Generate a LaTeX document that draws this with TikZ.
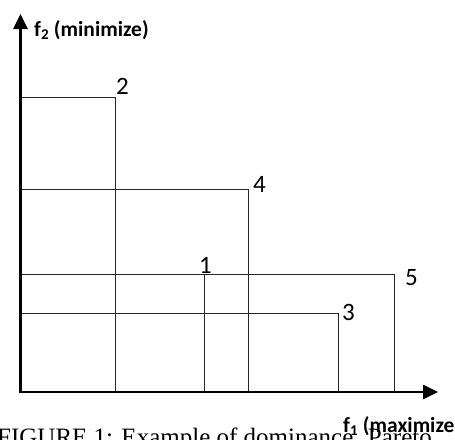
\documentclass[tikz,border=0pt]{standalone}
\usepackage{fontspec}
\setmainfont{Liberation Serif}
\newfontfamily\lab{Carlito}
\usetikzlibrary{arrows.meta}
\tikzset{
  axis/.style={line width=2.6pt,-{Triangle[length=15pt,width=14pt]}},
  boxline/.style={line width=1pt,draw=black!85},
  num/.style={anchor=base west,inner sep=0pt,font=\lab\fontsize{25}{27}\selectfont},
  axlabel/.style={anchor=base west,inner sep=0pt,font=\lab\bfseries\fontsize{21.5}{23}\selectfont},
  caption/.style={anchor=base west,inner sep=0pt,font=\fontsize{25}{27}\selectfont}
}
\begin{document}
\begin{tikzpicture}[x=1pt,y=-1pt]
\clip (0,0) rectangle (455,439);
\fill[white] (0,0) rectangle (455,439);
% axes
\coordinate (O) at (20.5,392);
\coordinate (ytip) at (20.5,14);
\coordinate (xtip) at (438,392);
% boxes (top-right corners)
\coordinate (c2) at (115,97.5);
\coordinate (c4) at (248.5,189);
\coordinate (c1) at (204,274.5);
\coordinate (c5) at (394,274.5);
\coordinate (c3) at (338,313);
\draw[boxline] (O |- c2) -- (c2) -- (c2 |- O);
\draw[boxline] (O |- c4) -- (c4) -- (c4 |- O);
\draw[boxline] (O |- c5) -- (c5) -- (c5 |- O);
\draw[boxline] (O |- c1) -- (c1) -- (c1 |- O);
\draw[boxline] (O |- c3) -- (c3) -- (c3 |- O);
% axes on top
\draw[axis] (O) -- (ytip);
\draw[axis] ([xshift=-1.3pt]O) -- (xtip);
% labels
\node[num] (l2) at (116,94) {2};
\node[num] (l4) at (253,192) {4};
\node[num] (l1) at (199,273) {1};
\node[num] (l5) at (405,285) {5};
\node[num] (l3) at (342,320) {3};
\node[axlabel] (ylab) at (34,36) {f\textsubscript{2} (minimize)};
\node[caption] (cap) at (-3,445) {FIGURE 1: Example of dominance. Pareto};
\node[axlabel] (xlab) at (343,432) {f\textsubscript{1} (maximize)};
\end{tikzpicture}
\end{document}
